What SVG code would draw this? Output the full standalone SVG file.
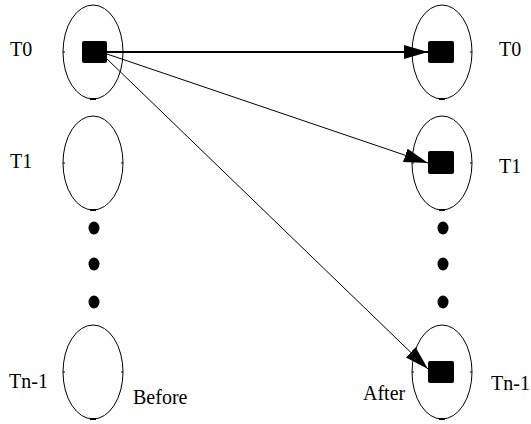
<svg xmlns="http://www.w3.org/2000/svg" width="531" height="424" viewBox="0 0 531 424">
<defs>
<style>
.ell{fill:none;stroke:#000;stroke-width:1}
.tick{stroke:#000;stroke-width:1}
.btick{stroke:#000;stroke-width:2}
.sq{fill:#000}
.dot{fill:#000}
.lbl{font-family:"Liberation Serif","Times New Roman",serif;font-size:20px;fill:#000}
.conn{fill:none;stroke:#000}
</style>
<marker id="ah" viewBox="0 0 24 14" refX="24" refY="7" markerWidth="24" markerHeight="14" markerUnits="userSpaceOnUse" orient="auto">
<path d="M0,0 L24,7 L0,14 z" fill="#000"/>
</marker>
</defs>
<rect width="531" height="424" fill="#fff"/>

<g id="before-T0">
<ellipse class="ell" cx="93" cy="52" rx="30" ry="47"/>
<line class="tick" x1="63" y1="52" x2="65" y2="52"/>
<line class="btick" x1="90" y1="99" x2="96" y2="99"/>
<rect class="sq" x="82" y="41" width="25" height="22" rx="2"/>
<text class="lbl" x="10" y="56">T0</text>
</g>
<g id="before-T1">
<ellipse class="ell" cx="93" cy="163" rx="30" ry="47"/>
<line class="tick" x1="63" y1="163" x2="65" y2="163"/>
<line class="tick" x1="121" y1="163" x2="123" y2="163"/>
<line class="btick" x1="90" y1="210" x2="96" y2="210"/>
<text class="lbl" x="10" y="168">T1</text>
</g>
<g id="before-dots">
<ellipse class="dot" cx="94" cy="228" rx="5.5" ry="6.5"/>
<ellipse class="dot" cx="94" cy="264" rx="5.5" ry="6.5"/>
<ellipse class="dot" cx="94" cy="302" rx="5.5" ry="6.5"/>
</g>
<g id="before-Tn-1">
<ellipse class="ell" cx="93" cy="372" rx="30" ry="47"/>
<line class="tick" x1="63" y1="372" x2="65" y2="372"/>
<line class="tick" x1="121" y1="372" x2="123" y2="372"/>
<line class="btick" x1="90" y1="419" x2="96" y2="419"/>
<text class="lbl" x="9" y="388">Tn-1</text>
<text class="lbl" x="133" y="404">Before</text>
</g>

<g id="after-T0">
<ellipse class="ell" cx="442" cy="52" rx="30" ry="47"/>
<line class="tick" x1="470" y1="52" x2="472" y2="52"/>
<line class="btick" x1="439" y1="99" x2="445" y2="99"/>
<rect class="sq" x="428" y="41" width="26" height="22" rx="2"/>
<text class="lbl" x="499" y="56">T0</text>
</g>
<g id="after-T1">
<ellipse class="ell" cx="442" cy="163" rx="30" ry="47"/>
<line class="tick" x1="412" y1="163" x2="414" y2="163"/>
<line class="tick" x1="470" y1="163" x2="472" y2="163"/>
<line class="btick" x1="439" y1="210" x2="445" y2="210"/>
<rect class="sq" x="428" y="151" width="26" height="23" rx="2"/>
<text class="lbl" x="499" y="173">T1</text>
</g>
<g id="after-dots">
<ellipse class="dot" cx="443" cy="228" rx="5.5" ry="6.5"/>
<ellipse class="dot" cx="443" cy="264" rx="5.5" ry="6.5"/>
<ellipse class="dot" cx="443" cy="302" rx="5.5" ry="6.5"/>
</g>
<g id="after-Tn-1">
<ellipse class="ell" cx="442" cy="372" rx="30" ry="47"/>
<line class="tick" x1="412" y1="372" x2="414" y2="372"/>
<line class="tick" x1="470" y1="372" x2="472" y2="372"/>
<line class="btick" x1="439" y1="419" x2="445" y2="419"/>
<rect class="sq" x="428" y="361" width="26" height="22" rx="2"/>
<text class="lbl" x="491" y="390">Tn-1</text>
<text class="lbl" x="363" y="400">After</text>
</g>

<g id="connectors">
<line class="conn" x1="107" y1="52" x2="428" y2="52" stroke-width="2" marker-end="url(#ah)"/>
<line class="conn" x1="107" y1="54" x2="428" y2="163" stroke-width="1" marker-end="url(#ah)"/>
<line class="conn" x1="106" y1="58" x2="428" y2="369" stroke-width="1" marker-end="url(#ah)"/>
</g>
</svg>
